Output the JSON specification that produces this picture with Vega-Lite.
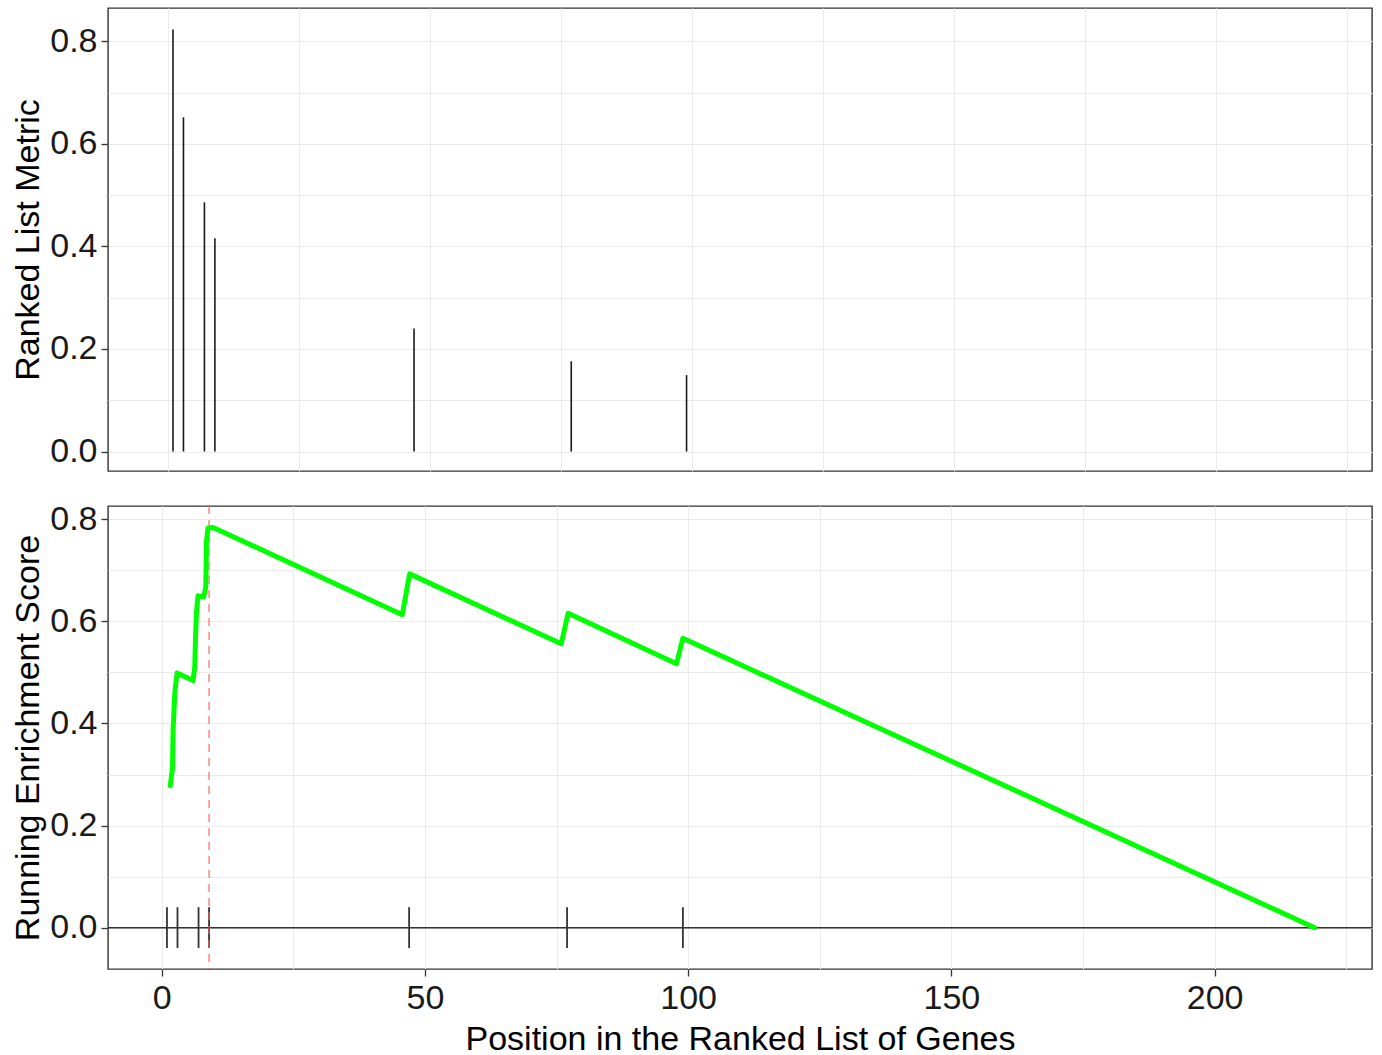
{
  "$schema": "https://vega.github.io/schema/vega-lite/v6.json",
  "padding": {"left": 11, "top": 7, "right": 10, "bottom": 0},
  "background": "white",
  "config": {
    "font": "Liberation Sans",
    "view": {"stroke": "#333333", "strokeWidth": 1.4},
    "axis": {
      "labelFont": "Liberation Sans",
      "titleFont": "Liberation Sans",
      "labelFontSize": 34,
      "titleFontSize": 34,
      "titleFontWeight": "normal",
      "labelColor": "#1a1a1a",
      "titleColor": "#000000",
      "tickColor": "#333333",
      "tickSize": 7,
      "tickWidth": 1.3,
      "domain": false,
      "gridColor": "#ebebeb",
      "gridWidth": 1,
      "labelOverlap": false,
      "labelFlush": false
    }
  },
  "datasets": {
    "metric": [
      {"pos": 1, "metric": 0.823},
      {"pos": 3, "metric": 0.652},
      {"pos": 7, "metric": 0.486},
      {"pos": 9, "metric": 0.416},
      {"pos": 47, "metric": 0.240},
      {"pos": 77, "metric": 0.176},
      {"pos": 99, "metric": 0.149}
    ],
    "es": [
      {"pos": 1.63, "es": 0.278},
      {"pos": 2.05, "es": 0.313},
      {"pos": 2.17, "es": 0.388},
      {"pos": 2.49, "es": 0.460},
      {"pos": 2.92, "es": 0.499},
      {"pos": 5.96, "es": 0.484},
      {"pos": 6.29, "es": 0.512},
      {"pos": 6.42, "es": 0.567},
      {"pos": 6.61, "es": 0.619},
      {"pos": 6.91, "es": 0.650},
      {"pos": 8.0, "es": 0.648},
      {"pos": 8.38, "es": 0.668},
      {"pos": 8.51, "es": 0.757},
      {"pos": 8.81, "es": 0.783},
      {"pos": 9.76, "es": 0.784},
      {"pos": 45.7, "es": 0.613},
      {"pos": 47.1, "es": 0.693},
      {"pos": 75.9, "es": 0.556},
      {"pos": 77.2, "es": 0.616},
      {"pos": 97.8, "es": 0.517},
      {"pos": 99.0, "es": 0.567},
      {"pos": 219.0, "es": 0.0}
    ],
    "peak": [{"peakPos": 9, "zero": 0}]
  },
  "spacing": 29,
  "resolve": {"scale": {"x": "independent", "y": "independent"}},
  "vconcat": [
    {
      "width": 1264,
      "height": 463,
      "data": {"name": "metric"},
      "mark": {"type": "rule", "color": "#1a1a1a", "strokeWidth": 1.6},
      "encoding": {
        "x": {
          "field": "pos",
          "type": "quantitative",
          "scale": {"domain": [-11.4, 229.8], "nice": false, "zero": false},
          "axis": {
            "title": null,
            "labels": false,
            "ticks": false,
            "grid": true,
            "values": [0, 25, 50, 75, 100, 125, 150, 175, 200, 225],
            "minExtent": 0,
            "maxExtent": 0
          }
        },
        "y": {
          "field": "metric",
          "type": "quantitative",
          "scale": {"domain": [-0.038, 0.865], "nice": false, "zero": false},
          "axis": {
            "title": "Ranked List Metric",
            "titlePadding": 4,
            "labelPadding": 4,
            "values": [0, 0.1, 0.2, 0.3, 0.4, 0.5, 0.6, 0.7, 0.8],
            "labelExpr": "abs(datum.value*5 - round(datum.value*5)) < 0.000001 ? format(datum.value, '.1f') : ''",
            "tickOpacity": {"condition": {"test": "abs(datum.value*5 - round(datum.value*5)) < 0.000001", "value": 1}, "value": 0}
          }
        },
        "y2": {"datum": 0}
      }
    },
    {
      "width": 1264,
      "height": 463,
      "layer": [
        {
          "data": {"name": "peak"},
          "mark": {"type": "rule", "color": "#333333", "strokeWidth": 1.5},
          "encoding": {"y": {"field": "zero", "type": "quantitative"}}
        },
        {
          "data": {"name": "metric"},
          "mark": {"type": "rule", "color": "#333333", "strokeWidth": 1.8},
          "encoding": {
            "x": {
              "field": "pos",
              "type": "quantitative",
              "scale": {"domain": [-10.2, 229.9], "nice": false, "zero": false},
              "axis": {
                "title": "Position in the Ranked List of Genes",
                "titlePadding": 7,
                "labelPadding": 5,
                "values": [0, 25, 50, 75, 100, 125, 150, 175, 200, 225],
                "labelExpr": "datum.value % 50 === 0 ? datum.label : ''",
                "tickOpacity": {"condition": {"test": "datum.value % 50 === 0", "value": 1}, "value": 0}
              }
            },
            "y": {"datum": -0.04},
            "y2": {"datum": 0.04}
          }
        },
        {
          "data": {"name": "peak"},
          "mark": {"type": "rule", "color": "#ff5a5a", "opacity": 0.75, "strokeWidth": 1.5, "strokeDash": [8, 6]},
          "encoding": {"x": {"field": "peakPos", "type": "quantitative"}}
        },
        {
          "data": {"name": "es"},
          "mark": {"type": "line", "color": "#00ff00", "strokeWidth": 5, "strokeCap": "round", "strokeJoin": "round"},
          "encoding": {
            "x": {"field": "pos", "type": "quantitative", "scale": {"domain": [-10.2, 229.9], "nice": false, "zero": false}},
            "y": {
              "field": "es",
              "type": "quantitative",
              "scale": {"domain": [-0.081, 0.826], "nice": false, "zero": false},
              "axis": {
                "title": "Running Enrichment Score",
                "titlePadding": 4,
                "labelPadding": 4,
                "values": [0, 0.1, 0.2, 0.3, 0.4, 0.5, 0.6, 0.7, 0.8],
                "labelExpr": "abs(datum.value*5 - round(datum.value*5)) < 0.000001 ? format(datum.value, '.1f') : ''",
                "tickOpacity": {"condition": {"test": "abs(datum.value*5 - round(datum.value*5)) < 0.000001", "value": 1}, "value": 0}
              }
            }
          }
        }
      ]
    }
  ]
}
